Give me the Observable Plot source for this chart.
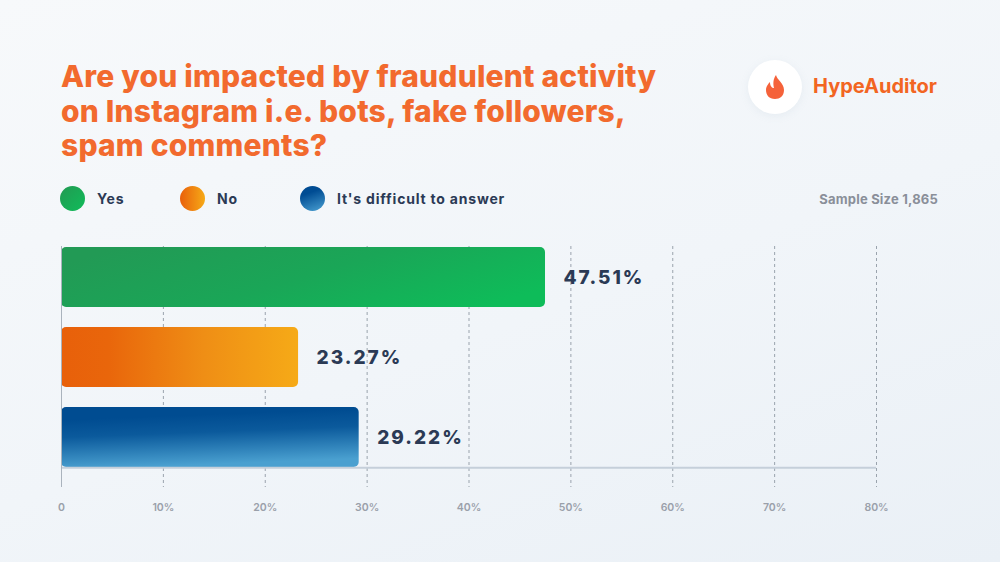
<!DOCTYPE html>
<html>
<head>
<meta charset="utf-8">
<script src="https://cdn.jsdelivr.net/npm/d3@7"></script>
<script src="https://cdn.jsdelivr.net/npm/@observablehq/plot@0.6"></script>
<style>
  html, body { margin: 0; padding: 0; }
  body {
    width: 1000px; height: 562px; overflow: hidden; position: relative;
    background: linear-gradient(160deg, #f7f9fb 0%, #f1f5f9 55%, #eaf0f6 100%);
    font-family: Inter, "Open Sans", sans-serif;
  }
  #header { position: relative; height: 230px; }
  #title {
    position: absolute; left: 61px; top: 59px; margin: 0;
    font-size: 30px; line-height: 34.5px; font-weight: 800; color: #f26a2e;
    letter-spacing: 0.2px;
  }
  #logo { position: absolute; left: 748px; top: 60px; width: 54px; height: 54px; border-radius: 50%; background: #fff; box-shadow: 0 2px 8px rgba(150,170,190,0.12); }
  #logo svg { position: absolute; left: 16px; top: 14px; }
  #brand { position: absolute; left: 813px; top: 74px; font-size: 20px; font-weight: 700; color: #f26522; }
  #legend { position: absolute; left: 60px; top: 186px; display: flex; align-items: center; }
  .item { display: flex; align-items: center; flex-shrink: 0; white-space: nowrap; }
  .sw { width: 25px; height: 25px; border-radius: 50%; flex-shrink: 0; }
  .lab { font-size: 14px; font-weight: 700; color: #2b3a55; margin-left: 12px; letter-spacing: 0.8px; }
  #sample { position: absolute; right: 62px; top: 191px; font-size: 13px; font-weight: 700; color: #8a8f99; letter-spacing: 0.2px; }
  .vlabel text { letter-spacing: 2px; }
</style>
</head>
<body>
<div id="header">
  <h1 id="title">Are you impacted by fraudulent activity<br>on Instagram i.e. bots, fake followers,<br>spam comments?</h1>
  <div id="logo"><svg width="22" height="26" viewBox="0 0 22 26"><path d="M12 1 C13 6 20 9 20 16 C20 22 16 25 11 25 C5 25 2 21 2 16 C2 12 5 9 6 8 C6 12 8 14 10 14 C9 10 9 5 12 1 Z" fill="#f5623a"/></svg></div>
  <div id="brand">HypeAuditor</div>
  <div id="legend"></div>
  <div id="sample">Sample Size 1,865</div>
</div>
<div id="chart"></div>
<script>
const categories = ["Yes", "No", "It's difficult to answer"];
const values = [47.51, 23.27, 29.22];
const labels = ["47.51%", "23.27%", "29.22%"];
const ticks = [0, 10, 20, 30, 40, 50, 60, 70, 80];
const tickLabels = ["0", "10%", "20%", "30%", "40%", "50%", "60%", "70%", "80%"];
const gradIds = ["gYes", "gNo", "gDiff"];

const data = categories.map((c, i) => ({category: c, value: values[i], label: labels[i], grad: gradIds[i]}));

// legend
const swatchCss = [
  "linear-gradient(135deg, #229a52, #10bc5a)",
  "linear-gradient(90deg, #e9600b, #f6aa17)",
  "linear-gradient(160deg, #004c93 30%, #4aa0d2)"
];
const legendWidths = [120, 120, 220];
const lg = document.getElementById("legend");
categories.forEach((c, i) => {
  const it = document.createElement("div");
  it.className = "item";
  it.style.width = legendWidths[i] + "px";
  it.innerHTML = `<div class="sw" style="background:${swatchCss[i]}"></div><div class="lab">${c}</div>`;
  lg.appendChild(it);
});

const bandStep = 221 / 2.75;
const halfBand = bandStep * 0.75 / 2;

const chart = Plot.plot({
  width: 1000,
  height: 332,
  marginLeft: 61,
  marginRight: 124,
  marginTop: 16,
  marginBottom: 95,
  style: {background: "transparent", fontFamily: "Inter, 'Open Sans', sans-serif"},
  x: {domain: [0, 80], axis: null},
  y: {domain: categories, axis: null, paddingInner: 0.25, paddingOuter: 0},
  marks: [
    Plot.ruleX(ticks.slice(1), {stroke: "#9aa3ad", strokeWidth: 1, strokeDasharray: "3,3", insetBottom: -20}),
    Plot.barX(data, {y: "category", x: "value", fill: d => `url(#${d.grad})`, rx: 5}),
    Plot.ruleY([categories[categories.length - 1]], {x1: 0, x2: 80, dy: halfBand, stroke: "#c5cfda", strokeWidth: 2}),
    Plot.ruleX([0], {stroke: "#aab3bd", strokeWidth: 1, insetBottom: -20}),
    Plot.text(data, {y: "category", x: "value", text: "label", dx: 18, textAnchor: "start",
      fontSize: 19, fontWeight: 800, fill: "#2b3a55"}),
    Plot.text(ticks, {x: d => d, text: (d, i) => tickLabels[i], frameAnchor: "bottom", dy: 43,
      fontSize: 10.5, fill: "#9aa0aa", fontWeight: 600})
  ]
});

// gradients
const svg = d3.select(chart);
const defs = svg.insert("defs", ":first-child");
function grad(id, x1, y1, x2, y2, stops) {
  const g = defs.append("linearGradient").attr("id", id)
    .attr("x1", x1).attr("y1", y1).attr("x2", x2).attr("y2", y2);
  stops.forEach(([o, c]) => g.append("stop").attr("offset", o).attr("stop-color", c));
}
grad("gYes", "0", "0.3", "1", "0.7", [["0", "#229a55"], ["0.5", "#1aa657"], ["1", "#0ebc59"]]);
grad("gNo", "0", "0", "1", "0", [["0", "#e8600a"], ["0.2", "#e9660b"], ["0.6", "#ef8e15"], ["1", "#f6aa17"]]);
grad("gDiff", "0.1", "0.2", "0.25", "1", [["0", "#004c91"], ["0.35", "#0b5a9c"], ["1", "#4aa0d0"]]);

// value labels: wider tracking like the reference
svg.selectAll('g[font-size="19"]').classed("vlabel", true);

document.getElementById("chart").appendChild(chart);
</script>
</body>
</html>
